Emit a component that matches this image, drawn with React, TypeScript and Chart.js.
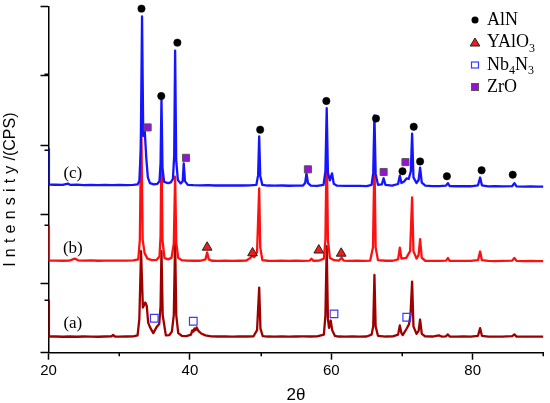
import React, { useEffect, useRef } from 'react';
import { Chart, registerables } from 'chart.js';

Chart.register(...registerables);

// ---- axis / tick values ----
const xRange = [20, 90];
const yRange = [-200, 4400];
const minorXTicks = [30, 50, 70, 90];
const minorYTicks = [500, 1500, 2500, 3500];

// ---- stacked trace offsets and labels ----
const traceNames = ['(a)', '(b)', '(c)'];
const traceOffsets = [0, 1000, 2000];
const traceColors = ['#9e0000', '#ff1010', '#1414ff'];
const traceLabelX = [23.44, 23.44, 23.44];
const traceLabelY = [190, 1188, 2179];

// ---- XRD traces: [2theta, intensity (relative to own baseline)] ----
const traceA: [number, number][] = [
  [20, 491], [20.06, 15], [21, 15], [22, 12], [23, 15], [24, 12], [25, 15], [26, 14], [27, 12], [28, 15],
  [28.9, 18], [29.13, 35], [29.4, 15], [30, 14], [31, 15], [32, 16], [32.6, 30], [32.85, 250], [33.09, 1149],
  [33.35, 400], [33.69, 468], [33.9, 420], [34.1, 200], [34.35, 140], [34.82, 60], [35.28, 140], [35.66, 180],
  [35.85, 420], [35.98, 1149], [36.15, 300], [36.6, 30], [37.1, 35], [37.45, 80], [37.72, 300], [37.91, 1280],
  [38.07, 300], [38.35, 60], [38.85, 25], [39.5, 20], [40.15, 40], [40.34, 96], [40.5, 80], [40.65, 122],
  [40.8, 100], [40.95, 136], [41.2, 90], [41.6, 55], [42.2, 30], [43, 18], [44, 15], [45, 16], [46, 14],
  [47, 16], [48, 15], [49, 18], [49.5, 100], [49.8, 666], [49.98, 120], [50.3, 20], [51, 15], [52, 14],
  [53, 15], [54, 14], [55, 15], [56, 16], [57, 15], [58, 16], [58.95, 40], [59.17, 300], [59.35, 1215],
  [59.52, 250], [59.68, 130], [59.92, 228], [60.12, 100], [60.5, 25], [61, 15], [62, 14], [63, 15], [64, 14],
  [65, 15], [65.7, 40], [65.93, 150], [66.1, 833], [66.27, 150], [66.6, 25], [67.7, 15], [68.7, 16],
  [69.45, 40], [69.69, 162], [69.92, 60], [70.1, 35], [70.4, 80], [70.67, 122], [71.0, 180], [71.2, 300],
  [71.43, 745], [71.62, 150], [72.05, 50], [72.35, 90], [72.56, 241], [72.8, 50], [73.3, 16], [74.3, 15],
  [75.22, 30], [75.6, 15], [76.2, 18], [76.49, 43], [76.75, 15], [77.7, 14], [78.7, 15], [79.7, 14],
  [80.75, 25], [81.05, 126], [81.3, 25], [82.2, 14], [83.2, 13], [84.2, 14], [85.6, 20], [85.9, 43],
  [86.2, 14], [87.2, 13], [88.2, 14], [89.2, 13], [90, 13],
];

const traceB: [number, number][] = [
  [20, 483], [20.06, 25], [21, 25], [22, 22], [23, 25], [23.72, 50], [24.2, 28], [25, 24], [26, 26], [27, 22],
  [28, 25], [29, 24], [30, 25], [31, 24], [32, 26], [32.7, 40], [32.92, 300], [33.12, 1864], [33.32, 300],
  [33.6, 120], [34.0, 50], [34.6, 30], [35.3, 35], [35.7, 80], [35.85, 350], [35.98, 1601], [36.12, 300],
  [36.4, 60], [36.9, 40], [37.4, 60], [37.72, 250], [37.91, 1139], [38.07, 260], [38.35, 60], [38.85, 30],
  [39.5, 25], [40.5, 22], [41.5, 22], [42.2, 40], [42.44, 132], [42.68, 40], [43.1, 22], [44, 20], [45, 22],
  [46, 20], [47, 22], [48, 25], [48.55, 60], [48.85, 88], [49.1, 70], [49.5, 140], [49.8, 983], [49.95, 200],
  [50.25, 30], [51, 22], [52, 20], [53, 22], [54, 20], [55, 22], [56, 20], [56.95, 25], [57.19, 49],
  [57.45, 22], [58.3, 25], [58.95, 50], [59.17, 300], [59.35, 1601], [59.52, 300], [59.8, 60], [60.4, 30],
  [61.1, 25], [61.45, 62], [61.75, 25], [62.6, 20], [63.6, 22], [64.6, 20], [65.5, 25], [65.9, 200],
  [66.1, 1404], [66.27, 200], [66.6, 30], [67.7, 22], [68.7, 22], [69.45, 40], [69.69, 197], [69.92, 50],
  [70.6, 60], [71.15, 150], [71.43, 865], [71.62, 150], [72.05, 50], [72.35, 100], [72.56, 308], [72.8, 60],
  [73.3, 22], [74.3, 20], [75.3, 20], [76.25, 25], [76.49, 58], [76.75, 20], [77.7, 20], [78.7, 20],
  [79.7, 20], [80.75, 30], [81.05, 145], [81.3, 30], [82.2, 20], [83.2, 18], [84.2, 20], [85.6, 25],
  [85.9, 58], [86.2, 20], [87.2, 18], [88.2, 20], [89.2, 18], [90, 18],
];

const traceC: [number, number][] = [
  [20, 509], [20.06, 35], [21, 32], [22, 30], [22.74, 48], [23.1, 30], [24, 33], [25, 28], [26, 31], [27, 27],
  [28, 30], [29, 28], [30, 30], [31, 28], [32, 30], [32.6, 38], [32.85, 80], [33.05, 500], [33.23, 2269],
  [33.4, 680], [33.62, 740], [33.82, 400], [34.05, 130], [34.35, 55], [34.9, 38], [35.4, 45], [35.7, 80],
  [35.85, 320], [35.98, 1171], [36.12, 260], [36.35, 70], [36.9, 55], [37.3, 65], [37.6, 110], [37.78, 420],
  [37.91, 1816], [38.06, 360], [38.3, 95], [38.7, 50], [38.98, 80], [39.13, 316], [39.3, 80], [39.7, 30],
  [40.5, 26], [41.5, 24], [42.5, 26], [43.5, 22], [44.5, 24], [45.5, 22], [46.5, 24], [47.5, 22], [48.5, 24],
  [49.4, 30], [49.65, 160], [49.8, 676], [49.95, 150], [50.25, 30], [51, 22], [52, 20], [53, 22], [54, 19],
  [55, 21], [56.0, 22], [56.3, 55], [56.49, 184], [56.7, 55], [57.1, 20], [58, 18], [58.9, 32], [59.17, 210],
  [59.35, 1049], [59.52, 190], [59.8, 90], [60.1, 184], [60.35, 45], [60.8, 20], [62, 18], [63, 16], [64, 18],
  [65, 15], [65.7, 32], [65.93, 190], [66.1, 953], [66.27, 180], [66.6, 32], [67.15, 38], [67.4, 118],
  [67.65, 32], [68.6, 20], [69.45, 42], [69.69, 154], [69.92, 55], [70.3, 75], [70.67, 118], [70.95, 110],
  [71.25, 210], [71.43, 711], [71.62, 130], [72.05, 55], [72.35, 95], [72.56, 259], [72.8, 60], [73.3, 20],
  [74.3, 15], [75.3, 14], [76.2, 20], [76.49, 53], [76.75, 15], [77.7, 12], [78.7, 14], [79.7, 12],
  [80.75, 25], [81.05, 128], [81.3, 25], [82.2, 10], [83.2, 12], [84.2, 10], [85.6, 15], [85.9, 53],
  [86.2, 10], [87.2, 8], [88.2, 10], [89.2, 8], [90, 8],
];

// ---- phase markers: [2theta, absolute plotted value] ----
const alnPeaks: [number, number][] = [
  [33.15, 4373], [35.95, 3211], [38.23, 3921], [49.94, 2764], [59.3, 3145], [66.32, 2912],
  [70.07, 2211], [71.66, 2803], [72.56, 2342], [76.35, 2145], [81.26, 2224], [85.66, 2166],
];
const zroPeaks: [number, number][] = [
  [34.02, 2794], [39.45, 2390], [56.69, 2237], [67.4, 2202], [70.49, 2333],
];
const yalo3Peaks: [number, number][] = [
  [42.44, 1200], [48.86, 1125], [58.23, 1162], [61.4, 1120],
];
const nb4n3Peaks: [number, number][] = [
  [34.96, 258], [40.48, 218], [60.38, 316], [70.67, 271],
];

const legendNames = ['AlN', 'YAlO', 'Nb', 'ZrO'];

const SANS = '"Liberation Sans", Arial, sans-serif';
const SERIF = '"Liberation Serif", "Times New Roman", serif';

const decorPlugin = {
  id: 'decor',
  afterDraw(chart: any) {
    const { ctx, chartArea, scales } = chart;
    const x = scales.x;
    const y = scales.y;
    ctx.save();
    // minor ticks
    ctx.strokeStyle = '#000';
    ctx.lineWidth = 1.5;
    minorXTicks.forEach((v) => {
      const px = Math.round(x.getPixelForValue(v)) + 0.25;
      ctx.beginPath();
      ctx.moveTo(px, chartArea.bottom);
      ctx.lineTo(px, chartArea.bottom + 3.5);
      ctx.stroke();
    });
    minorYTicks.forEach((v) => {
      const py = Math.round(y.getPixelForValue(v)) + 0.25;
      ctx.beginPath();
      ctx.moveTo(chartArea.left, py);
      ctx.lineTo(chartArea.left - 4, py);
      ctx.stroke();
    });

    // trace labels
    ctx.fillStyle = '#000';
    ctx.font = `17px ${SERIF}`;
    ctx.textAlign = 'center';
    ctx.textBaseline = 'middle';
    traceNames.forEach((n, i) => {
      ctx.fillText(n, x.getPixelForValue(traceLabelX[i]), y.getPixelForValue(traceLabelY[i]));
    });

    // y axis title (letter-spaced "Intensity")
    ctx.save();
    ctx.font = `16px ${SANS}`;
    ctx.textAlign = 'left';
    ctx.textBaseline = 'middle';
    const spaced = 'Intensity';
    const rest = '/(CPS)';
    const gap = 5.2;
    let total = 0;
    for (const ch of spaced) total += ctx.measureText(ch).width + gap;
    total += ctx.measureText(rest).width;
    ctx.translate(11, (chartArea.top + chartArea.bottom) / 2 + 10);
    ctx.rotate(-Math.PI / 2);
    let cx = -total / 2;
    for (const ch of spaced) {
      ctx.fillText(ch, cx, 0);
      cx += ctx.measureText(ch).width + gap;
    }
    ctx.fillText(rest, cx, 0);
    ctx.restore();

    // legend
    const lx = 475;
    const tx = 487;
    const rows = [20, 42.5, 65, 87];
    ctx.textAlign = 'left';
    ctx.textBaseline = 'middle';
    // AlN circle
    ctx.fillStyle = '#000';
    ctx.beginPath();
    ctx.arc(lx, rows[0], 3.5, 0, Math.PI * 2);
    ctx.fill();
    // triangle
    ctx.beginPath();
    ctx.moveTo(lx, rows[1] - 4.5);
    ctx.lineTo(lx + 4.8, rows[1] + 3.5);
    ctx.lineTo(lx - 4.8, rows[1] + 3.5);
    ctx.closePath();
    ctx.fillStyle = '#ee1c1c';
    ctx.fill();
    ctx.strokeStyle = '#222';
    ctx.lineWidth = 1;
    ctx.stroke();
    // Nb4N3 open square
    ctx.strokeStyle = '#3a3aff';
    ctx.lineWidth = 1.2;
    ctx.strokeRect(lx - 3.5, rows[2] - 3, 7, 6);
    // ZrO square
    ctx.fillStyle = '#9a10d8';
    ctx.fillRect(lx - 3.5, rows[3] - 3.5, 7, 7);
    ctx.strokeStyle = '#555';
    ctx.lineWidth = 1;
    ctx.strokeRect(lx - 3.5, rows[3] - 3.5, 7, 7);

    ctx.fillStyle = '#000';
    const big = `18px ${SERIF}`;
    const small = `12px ${SERIF}`;
    const drawParts = (parts: [string, boolean][], yy: number) => {
      let px = tx;
      parts.forEach(([t, sub]) => {
        ctx.font = sub ? small : big;
        ctx.fillText(t, px, sub ? yy + 6 : yy);
        px += ctx.measureText(t).width;
      });
    };
    drawParts([[legendNames[0], false]], rows[0]);
    drawParts([[legendNames[1], false], ['3', true]], rows[1]);
    drawParts([[legendNames[2], false], ['4', true], ['N', false], ['3', true]], rows[2]);
    drawParts([[legendNames[3], false]], rows[3]);
    ctx.restore();
  },
};

export default function App() {
  const canvasRef = useRef<HTMLCanvasElement | null>(null);

  useEffect(() => {
    if (!canvasRef.current) return;
    const toXY = (arr: [number, number][], off: number) => arr.map(([t, v]) => ({ x: t, y: v + off }));
    const traces = [traceA, traceB, traceC];
    const traceSets = traces.map((tr, i) => ({
      label: traceNames[i],
      data: toXY(tr, traceOffsets[i]),
      showLine: true,
      borderColor: traceColors[i],
      backgroundColor: traceColors[i],
      borderWidth: 2.3,
      pointRadius: 0,
      tension: 0,
      order: 3 - i,
      borderJoinStyle: 'round' as const,
    }));
    const markerSets = [
      {
        label: 'AlN', data: toXY(alnPeaks, 0), pointStyle: 'circle', pointRadius: 3.7,
        backgroundColor: '#000', borderColor: '#000', borderWidth: 0.5,
      },
      {
        label: 'ZrO', data: toXY(zroPeaks, 0), pointStyle: 'rect', pointRadius: 5,
        backgroundColor: '#9a10d8', borderColor: '#555', borderWidth: 1,
      },
      {
        label: 'YAlO3', data: toXY(yalo3Peaks, 0), pointStyle: 'triangle', pointRadius: 5.6,
        backgroundColor: '#ee1c1c', borderColor: '#222', borderWidth: 1,
      },
      {
        label: 'Nb4N3', data: toXY(nb4n3Peaks, 0), pointStyle: 'rect', pointRadius: 5.4,
        backgroundColor: 'rgba(255,255,255,0)', borderColor: '#3a3aff', borderWidth: 1.2,
      },
    ].map((d) => ({ ...d, showLine: false, order: 0, clip: false as const }));

    const chart = new Chart(canvasRef.current, {
      type: 'scatter',
      data: { datasets: [...markerSets, ...traceSets] as any },
      options: {
        responsive: true,
        maintainAspectRatio: false,
        animation: false,
        events: [],
        layout: { padding: { top: 3, right: 3, left: 0, bottom: 0 } },
        plugins: {
          legend: { display: false },
          tooltip: { enabled: false },
          title: { display: false },
        },
        scales: {
          x: {
            type: 'linear',
            position: 'bottom',
            min: xRange[0],
            max: xRange[1],
            ticks: {
              stepSize: 20,
              includeBounds: false,
              color: '#000',
              font: { family: SANS, size: 15 },
              padding: 2,
              maxRotation: 0,
              autoSkip: false,
            },
            grid: { drawOnChartArea: false, drawTicks: true, tickLength: 7, tickColor: '#000', tickWidth: 1.5 },
            border: { display: true, color: '#000', width: 1.5 },
            title: {
              display: true,
              text: '2θ',
              color: '#000',
              font: { family: SANS, size: 17, lineHeight: 0.85 },
              padding: { top: 0, bottom: 0 },
            },
            afterFit: (s: any) => { s.height = 50.3; },
          },
          y: {
            type: 'linear',
            min: yRange[0],
            max: yRange[1],
            ticks: { display: false, stepSize: 1000, includeBounds: false },
            grid: { drawOnChartArea: false, drawTicks: true, tickLength: 8, tickColor: '#000', tickWidth: 1.5 },
            border: { display: true, color: '#000', width: 1.5 },
            afterFit: (s: any) => { s.width = 48.5; },
          },
        },
      } as any,
      plugins: [decorPlugin],
    });
    return () => chart.destroy();
  }, []);

  return (
    <div style={{ position: 'absolute', left: 0, top: 0, width: 550, height: 403, background: '#fff' }}>
      <canvas ref={canvasRef} />
    </div>
  );
}
